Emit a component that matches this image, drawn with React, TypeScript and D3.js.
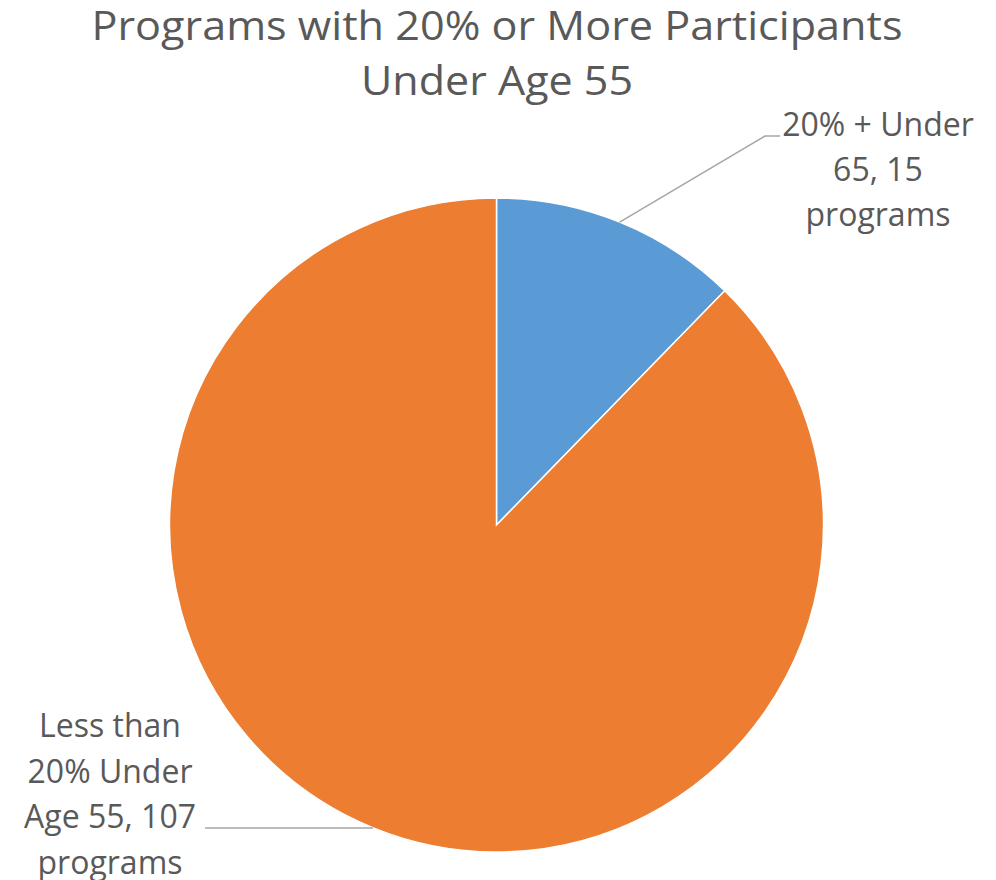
import React from "react";
import * as d3 from "d3";

const categories = ["20% + Under 65, 15 programs", "Less than 20% Under Age 55, 107 programs"];
const values = [15, 107];
const colors = ["#5B9BD5", "#ED7D31"];
const titleLines = ["Programs with 20% or More Participants", "Under Age 55"];
const labelLines = [["20% + Under", "65, 15", "programs"], ["Less than", "20% Under", "Age 55, 107", "programs"]];

export default function App() {
  const W = 996, H = 880;
  const cx = 496.5, cy = 525, r = 327;
  const pie = d3.pie<number>().sort(null).value((d) => d)(values);
  const arc = d3.arc<d3.PieArcDatum<number>>().innerRadius(0).outerRadius(r);
  const font = "'Open Sans', sans-serif";
  const textColor = "#595959";
  const lineColor = "#A6A6A6";
  void categories;

  const labelPos = [
    { x: 878, y: 136, dy: 45 },
    { x: 110, y: 737, dy: 45.5 },
  ];
  const a0 = (pie[0].startAngle + pie[0].endAngle) / 2;
  const p0 = [cx + Math.sin(a0) * r, cy - Math.cos(a0) * r];
  const leaders = [
    `M${p0[0]},${p0[1]} L765,136 L780,136`,
    `M205,828 L373,828`,
  ];

  return (
    <svg width={W} height={H} style={{ position: "absolute", left: 0, top: 0 }}>
      <rect width={W} height={H} fill="#fff" />
      {titleLines.map((t, i) => (
        <text key={i} x={497} y={40 + i * 55} textAnchor="middle" fontFamily={font} fontSize={41} fill={textColor}
          textLength={i === 0 ? 811 : 272} lengthAdjust="spacingAndGlyphs">
          {t}
        </text>
      ))}
      <g transform={`translate(${cx},${cy})`}>
        {pie.map((d, i) => (
          <path key={i} d={arc(d) || ""} fill={colors[i]} stroke="#fff" strokeWidth={1.5} />
        ))}
      </g>
      {leaders.map((d, i) => (
        <path key={i} d={d} fill="none" stroke={lineColor} strokeWidth={1.5} />
      ))}
      {labelLines.map((lines, i) => (
        <text key={i} textAnchor="middle" fontFamily={font} fontSize={32} fill={textColor}>
          {lines.map((l, j) => (
            <tspan key={j} x={labelPos[i].x} y={labelPos[i].y + j * labelPos[i].dy}>
              {l}
            </tspan>
          ))}
        </text>
      ))}
    </svg>
  );
}
